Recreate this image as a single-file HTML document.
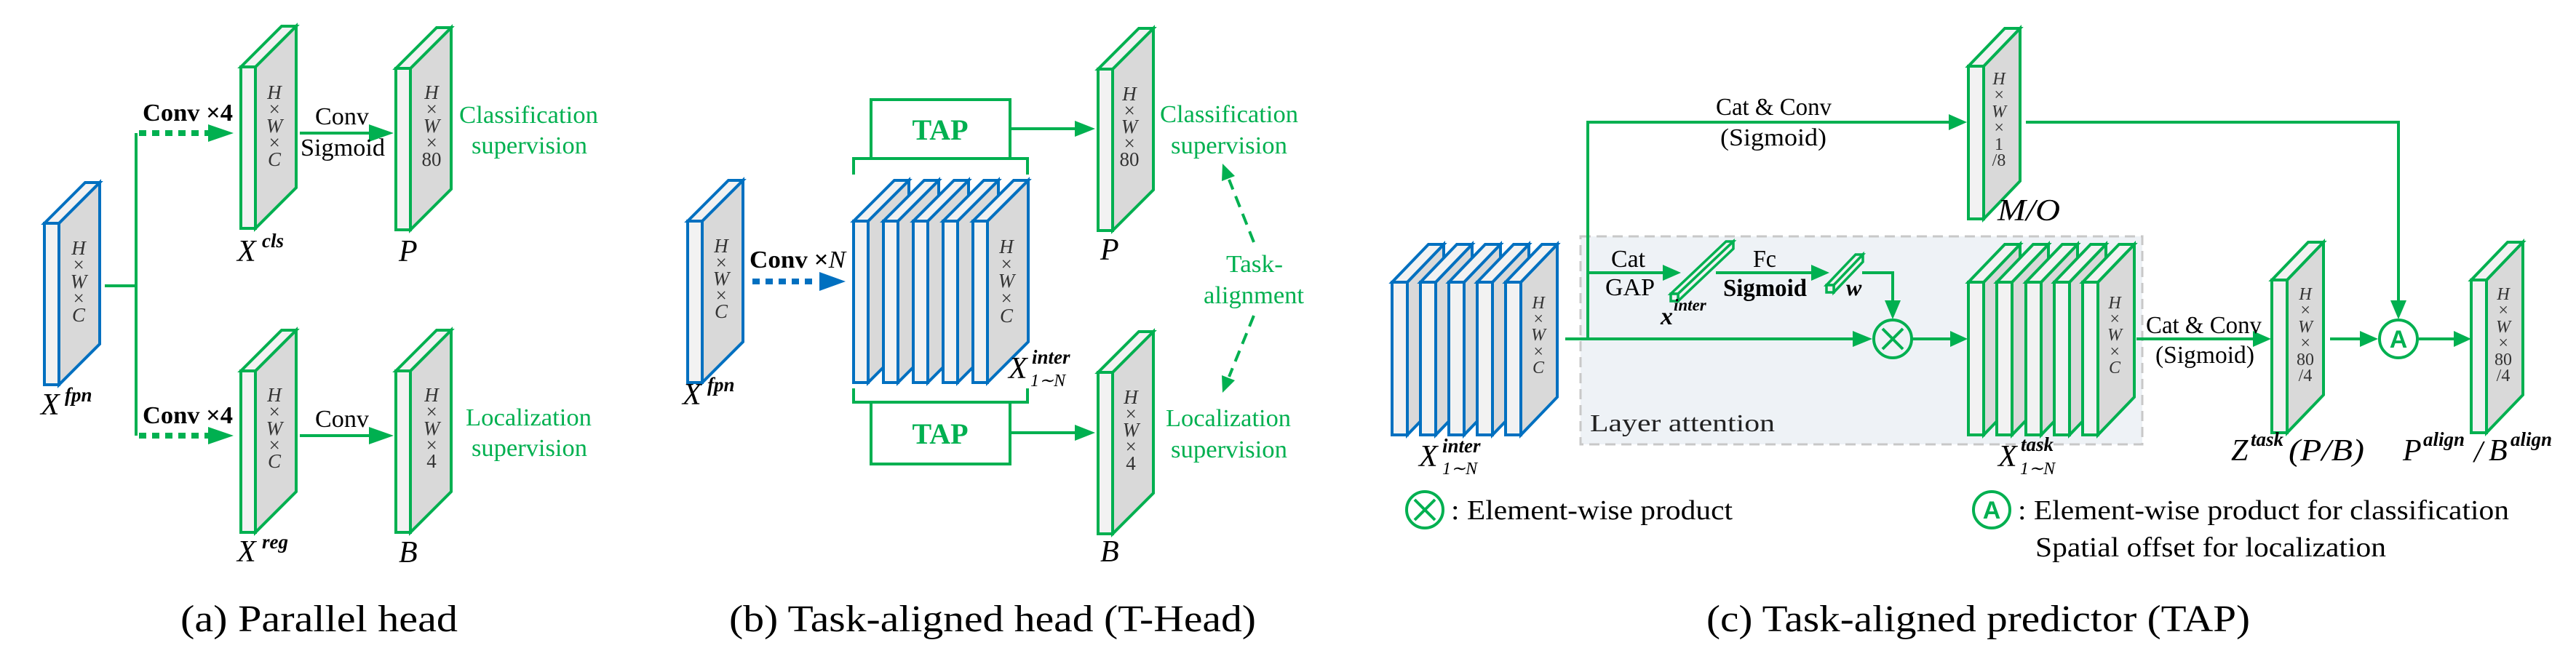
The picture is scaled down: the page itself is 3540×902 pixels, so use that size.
<!DOCTYPE html>
<html><head><meta charset="utf-8"><style>
html,body{margin:0;padding:0;background:#fff}
svg{display:block;font-family:"Liberation Serif","Times New Roman",serif}
svg text{font-family:"Liberation Serif","Times New Roman",serif}
.m{font-style:italic;font-size:24px;fill:#333;text-anchor:middle;dominant-baseline:central}
.ma{font-style:italic;font-size:27px;fill:#333;text-anchor:middle;dominant-baseline:central}
.g{fill:#00b050}
.lab{font-style:italic;font-size:42px;fill:#000}
.sup{font-style:italic;font-size:27px;fill:#000;font-weight:bold}
svg text.sans{font-family:"Liberation Sans",sans-serif}
</style></head><body>
<svg width="3540" height="902" viewBox="0 0 3540 902" xmlns="http://www.w3.org/2000/svg" font-family="Liberation Serif, serif">
<defs>
<g id="bA" stroke-width="4" stroke-linejoin="miter">
<polygon points="20,0 76,-56 76,166 20,222" fill="#d9d9d9"/>
<polygon points="0,0 56,-56 76,-56 20,0" fill="#f2f2f2"/>
<rect x="0" y="0" width="20" height="222" fill="#f2f2f2"/>
</g>
<g id="bC" stroke-width="4" stroke-linejoin="miter">
<polygon points="21,0 71,-52 71,158 21,210" fill="#d9d9d9"/>
<polygon points="0,0 50,-52 71,-52 21,0" fill="#f2f2f2"/>
<rect x="0" y="0" width="21" height="210" fill="#f2f2f2"/>
</g>
</defs>

<!-- ============ PANEL A ============ -->
<g fill="none" stroke="#00b050" stroke-width="4">
<path d="M144,393 H187 M187,183 V599"/>
<path d="M412,183 H515 M412,599 H515"/>
</g>
<g stroke="#00b050" stroke-width="8" stroke-dasharray="10 8" fill="none">
<path d="M191,183 H286 M191,599 H286"/>
</g>
<g class="g">
<polygon points="286,171 321,183 286,195"/>
<polygon points="286,587 321,599 286,611"/>
<polygon points="507,171 541,183 507,195"/>
<polygon points="507,587 541,599 507,611"/>
</g>
<use href="#bA" x="61" y="307" stroke="#0070c0"/>
<use href="#bA" x="331" y="92" stroke="#00b050"/>
<use href="#bA" x="544" y="94" stroke="#00b050"/>
<use href="#bA" x="331" y="510" stroke="#00b050"/>
<use href="#bA" x="544" y="510" stroke="#00b050"/>
<g class="ma">
<text x="108" y="341">H</text><text x="108" y="364">×</text><text x="108" y="387">W</text><text x="108" y="410">×</text><text x="108" y="433">C</text>
<text x="377" y="127">H</text><text x="377" y="150">×</text><text x="377" y="173">W</text><text x="377" y="196">×</text><text x="377" y="219">C</text>
<text x="593" y="127">H</text><text x="593" y="150">×</text><text x="593" y="173">W</text><text x="593" y="196">×</text><text x="593" y="219" font-style="normal">80</text>
<text x="377" y="543">H</text><text x="377" y="566">×</text><text x="377" y="589">W</text><text x="377" y="612">×</text><text x="377" y="634">C</text>
<text x="593" y="543">H</text><text x="593" y="566">×</text><text x="593" y="589">W</text><text x="593" y="612">×</text><text x="593" y="634" font-style="normal">4</text>
</g>
<text x="196" y="166" font-size="34" font-weight="bold" textLength="124" lengthAdjust="spacingAndGlyphs">Conv ×4</text>
<text x="196" y="582" font-size="34" font-weight="bold" textLength="124" lengthAdjust="spacingAndGlyphs">Conv ×4</text>
<text x="433" y="171" font-size="34" textLength="74" lengthAdjust="spacingAndGlyphs">Conv</text>
<text x="413" y="214" font-size="34" textLength="116" lengthAdjust="spacingAndGlyphs">Sigmoid</text>
<text x="433" y="587" font-size="34" textLength="74" lengthAdjust="spacingAndGlyphs">Conv</text>
<g class="g" font-size="34">
<text x="631" y="169" textLength="191" lengthAdjust="spacingAndGlyphs">Classification</text>
<text x="648" y="211" textLength="159" lengthAdjust="spacingAndGlyphs">supervision</text>
<text x="640" y="585" textLength="173" lengthAdjust="spacingAndGlyphs">Localization</text>
<text x="648" y="627" textLength="159" lengthAdjust="spacingAndGlyphs">supervision</text>
</g>
<text x="56" y="570" class="lab">X</text><text x="89" y="552" class="sup">fpn</text>
<text x="326" y="359" class="lab">X</text><text x="360" y="340" class="sup">cls</text>
<text x="548" y="359" class="lab">P</text>
<text x="326" y="772" class="lab">X</text><text x="360" y="754" class="sup">reg</text>
<text x="548" y="773" class="lab">B</text>
<text x="248" y="868" font-size="52" textLength="381" lengthAdjust="spacingAndGlyphs">(a)  Parallel head</text>

<!-- ============ PANEL B ============ -->
<use href="#bA" x="945" y="304" stroke="#0070c0"/>
<g class="ma"><text x="991" y="338">H</text><text x="991" y="361">×</text><text x="991" y="383">W</text><text x="991" y="406">×</text><text x="991" y="428">C</text></g>
<text x="1030" y="368" font-size="34" font-weight="bold" textLength="132" lengthAdjust="spacingAndGlyphs">Conv ×<tspan font-style="italic" font-weight="normal">N</tspan></text>
<path d="M1034,387 H1124" stroke="#0070c0" stroke-width="8" stroke-dasharray="10 8" fill="none"/>
<polygon points="1126,374 1162,387 1126,400" fill="#0070c0"/>
<use href="#bA" x="1173" y="304" stroke="#0070c0"/>
<use href="#bA" x="1214" y="304" stroke="#0070c0"/>
<use href="#bA" x="1255" y="304" stroke="#0070c0"/>
<use href="#bA" x="1296" y="304" stroke="#0070c0"/>
<use href="#bA" x="1337" y="304" stroke="#0070c0"/>
<g class="ma"><text x="1383" y="339">H</text><text x="1383" y="363">×</text><text x="1383" y="386">W</text><text x="1383" y="410">×</text><text x="1383" y="434">C</text></g>
<g fill="none" stroke="#00b050" stroke-width="4">
<path d="M1173,240 V218 H1412 V240"/>
<path d="M1173,534 V553 H1412 V534"/>
<rect x="1197" y="137" width="191" height="81"/>
<rect x="1197" y="553" width="191" height="85"/>
<path d="M1388,177 H1480 M1388,595 H1480"/>
</g>
<g class="g"><polygon points="1477,166 1505,177 1477,188"/><polygon points="1477,584 1505,595 1477,606"/></g>
<text x="1292" y="192" class="g" font-size="40" font-weight="bold" text-anchor="middle">TAP</text>
<text x="1292" y="610" class="g" font-size="40" font-weight="bold" text-anchor="middle">TAP</text>
<use href="#bA" x="1509" y="95" stroke="#00b050"/>
<use href="#bA" x="1509" y="512" stroke="#00b050"/>
<g class="ma">
<text x="1552" y="129">H</text><text x="1552" y="152">×</text><text x="1552" y="174">W</text><text x="1552" y="197">×</text><text x="1552" y="219" font-style="normal">80</text>
<text x="1554" y="546">H</text><text x="1554" y="569">×</text><text x="1554" y="591">W</text><text x="1554" y="614">×</text><text x="1554" y="637" font-style="normal">4</text>
</g>
<text x="938" y="556" class="lab">X</text><text x="972" y="538" class="sup">fpn</text>
<text x="1386" y="520" class="lab">X</text><text x="1418" y="500" class="sup" font-size="24">inter</text><text x="1416" y="531" font-size="24" font-style="italic">1∼N</text>
<text x="1512" y="357" class="lab">P</text>
<text x="1512" y="772" class="lab">B</text>
<g class="g" font-size="34">
<text x="1594" y="168" textLength="190" lengthAdjust="spacingAndGlyphs">Classification</text>
<text x="1609" y="211" textLength="160" lengthAdjust="spacingAndGlyphs">supervision</text>
<text x="1602" y="586" textLength="172" lengthAdjust="spacingAndGlyphs">Localization</text>
<text x="1609" y="629" textLength="160" lengthAdjust="spacingAndGlyphs">supervision</text>
<text x="1685" y="374" textLength="78" lengthAdjust="spacingAndGlyphs">Task-</text>
<text x="1654" y="417" textLength="138" lengthAdjust="spacingAndGlyphs">alignment</text>
</g>
<g stroke="#00b050" stroke-width="4" stroke-dasharray="16 10" fill="none">
<path d="M1723,333 L1689,247"/><path d="M1723,434 L1689,518"/>
</g>
<g class="g"><polygon points="1680,225 1697,242 1679,249"/><polygon points="1680,540 1697,523 1679,516"/></g>
<text x="1002" y="868" font-size="52" textLength="724" lengthAdjust="spacingAndGlyphs">(b)  Task-aligned head (T-Head)</text>

<!-- ============ PANEL C ============ -->
<rect x="2172" y="325" width="772" height="286" fill="#eef2f6" stroke="#c8c8c8" stroke-width="3" stroke-dasharray="14 8"/>
<use href="#bC" x="1913" y="388" stroke="#0070c0"/>
<use href="#bC" x="1952" y="388" stroke="#0070c0"/>
<use href="#bC" x="1991" y="388" stroke="#0070c0"/>
<use href="#bC" x="2030" y="388" stroke="#0070c0"/>
<use href="#bC" x="2069" y="388" stroke="#0070c0"/>
<g class="m"><text x="2114" y="417">H</text><text x="2114" y="439">×</text><text x="2114" y="461">W</text><text x="2114" y="484">×</text><text x="2114" y="506">C</text></g>
<g fill="none" stroke="#00b050" stroke-width="4">
<path d="M2182,466 V168 H2680"/>
<path d="M2784,168 H3296 V418"/>
<path d="M2151,466 H2548"/>
<path d="M2182,375 H2290"/>
<path d="M2358,375 H2492"/>
<path d="M2559,375 H2601 V416"/>
<path d="M2628,466 H2684"/>
<path d="M2936,466 H3100"/>
<path d="M3202,466 H3246"/>
<path d="M3324,466 H3375"/>
<circle cx="2601" cy="466" r="26"/>
<path d="M2587,452 L2615,480 M2615,452 L2587,480"/>
<circle cx="3296" cy="466" r="26"/>
<circle cx="1958" cy="701" r="25"/>
<path d="M1944,687 L1972,715 M1972,687 L1944,715"/>
<circle cx="2737" cy="701" r="25"/>
</g>
<g class="g">
<polygon points="2678,157 2703,168 2678,179"/>
<polygon points="3285,413 3296,439 3307,413"/>
<polygon points="2546,455 2573,466 2546,477"/>
<polygon points="2285,364 2310,375 2285,386"/>
<polygon points="2489,364 2514,375 2489,386"/>
<polygon points="2590,413 2601,439 2612,413"/>
<polygon points="2680,455 2704,466 2680,477"/>
<polygon points="3096,455 3121,466 3096,477"/>
<polygon points="3243,455 3268,466 3243,477"/>
<polygon points="3372,455 3396,466 3372,477"/>
</g>
<text x="3296" y="478" class="g sans" font-size="34" font-weight="bold" text-anchor="middle">A</text>
<text x="2737" y="713" class="g sans" font-size="34" font-weight="bold" text-anchor="middle">A</text>
<g stroke="#00b050" stroke-width="3.5" fill="#f2f2f2" stroke-linejoin="miter">
<polygon points="2296,404 2372,332 2382,332 2306,404"/>
<polygon points="2306,404 2382,332 2382,342 2306,414"/>
<rect x="2296" y="404" width="10" height="10"/>
<polygon points="2510,392 2550,350 2560,350 2520,392"/>
<polygon points="2520,392 2560,350 2560,360 2520,402"/>
<rect x="2510" y="392" width="10" height="10"/>
</g>
<use href="#bC" x="2705" y="91" stroke="#00b050"/>
<use href="#bC" x="2705" y="388" stroke="#00b050"/>
<use href="#bC" x="2744" y="388" stroke="#00b050"/>
<use href="#bC" x="2784" y="388" stroke="#00b050"/>
<use href="#bC" x="2823" y="388" stroke="#00b050"/>
<use href="#bC" x="2862" y="388" stroke="#00b050"/>
<use href="#bC" x="3122" y="385" stroke="#00b050"/>
<use href="#bC" x="3396" y="385" stroke="#00b050"/>
<g class="m">
<text x="2747" y="109">H</text><text x="2747" y="131">×</text><text x="2747" y="154">W</text><text x="2747" y="176">×</text><text x="2747" y="199" font-style="normal">1</text><text x="2747" y="221" font-style="normal">/8</text>
<text x="2906" y="417">H</text><text x="2906" y="439">×</text><text x="2906" y="461">W</text><text x="2906" y="484">×</text><text x="2906" y="506">C</text>
<text x="3168" y="405">H</text><text x="3168" y="427">×</text><text x="3168" y="450">W</text><text x="3168" y="472">×</text><text x="3168" y="495" font-style="normal">80</text><text x="3168" y="517" font-style="normal">/4</text>
<text x="3440" y="405">H</text><text x="3440" y="427">×</text><text x="3440" y="450">W</text><text x="3440" y="472">×</text><text x="3440" y="495" font-style="normal">80</text><text x="3440" y="517" font-style="normal">/4</text>
</g>
<g font-size="34">
<text x="2358" y="158" textLength="159" lengthAdjust="spacingAndGlyphs">Cat &amp; Conv</text>
<text x="2364" y="200" textLength="146" lengthAdjust="spacingAndGlyphs">(Sigmoid)</text>
<text x="2214" y="367" textLength="47" lengthAdjust="spacingAndGlyphs">Cat</text>
<text x="2206" y="406" textLength="68" lengthAdjust="spacingAndGlyphs">GAP</text>
<text x="2409" y="367" textLength="32" lengthAdjust="spacingAndGlyphs">Fc</text>
<text x="2368" y="407" font-weight="bold" textLength="115" lengthAdjust="spacingAndGlyphs">Sigmoid</text>
<text x="2949" y="458" textLength="159" lengthAdjust="spacingAndGlyphs">Cat &amp; Conv</text>
<text x="2962" y="499" textLength="136" lengthAdjust="spacingAndGlyphs">(Sigmoid)</text>
<text x="2185" y="593" fill="#222" textLength="254" lengthAdjust="spacingAndGlyphs">Layer attention</text>
</g>
<text x="2282" y="446" font-size="34" font-style="italic" font-weight="bold">x</text><text x="2300" y="427" font-size="23" font-style="italic" font-weight="bold">inter</text>
<text x="2537" y="406" font-size="32" font-style="italic" font-weight="bold">w</text>
<text x="2745" y="303" class="lab" textLength="86" lengthAdjust="spacingAndGlyphs">M/O</text>
<text x="1950" y="641" class="lab">X</text><text x="1982" y="622" class="sup" font-size="24">inter</text><text x="1982" y="652" font-size="24" font-style="italic">1∼N</text>
<text x="2746" y="641" class="lab">X</text><text x="2777" y="620" class="sup" font-size="24">task</text><text x="2776" y="652" font-size="24" font-style="italic">1∼N</text>
<text x="3066" y="633" class="lab">Z</text><text x="3093" y="613" class="sup" font-size="24">task</text><text x="3145" y="633" class="lab" textLength="104" lengthAdjust="spacingAndGlyphs">(P/B)</text>
<text x="3302" y="633" class="lab">P</text><text x="3330" y="613" class="sup" font-size="24">align</text><text x="3400" y="635" class="lab">/</text><text x="3420" y="633" class="lab">B</text><text x="3450" y="613" class="sup" font-size="24">align</text>
<g font-size="38">
<text x="1994" y="714" textLength="387" lengthAdjust="spacingAndGlyphs">: Element-wise product</text>
<text x="2773" y="714" textLength="675" lengthAdjust="spacingAndGlyphs">: Element-wise product for classification</text>
<text x="2797" y="765" textLength="482" lengthAdjust="spacingAndGlyphs">Spatial offset for localization</text>
</g>
<text x="2345" y="868" font-size="52" textLength="747" lengthAdjust="spacingAndGlyphs">(c)  Task-aligned predictor (TAP)</text>
</svg>
</body></html>
